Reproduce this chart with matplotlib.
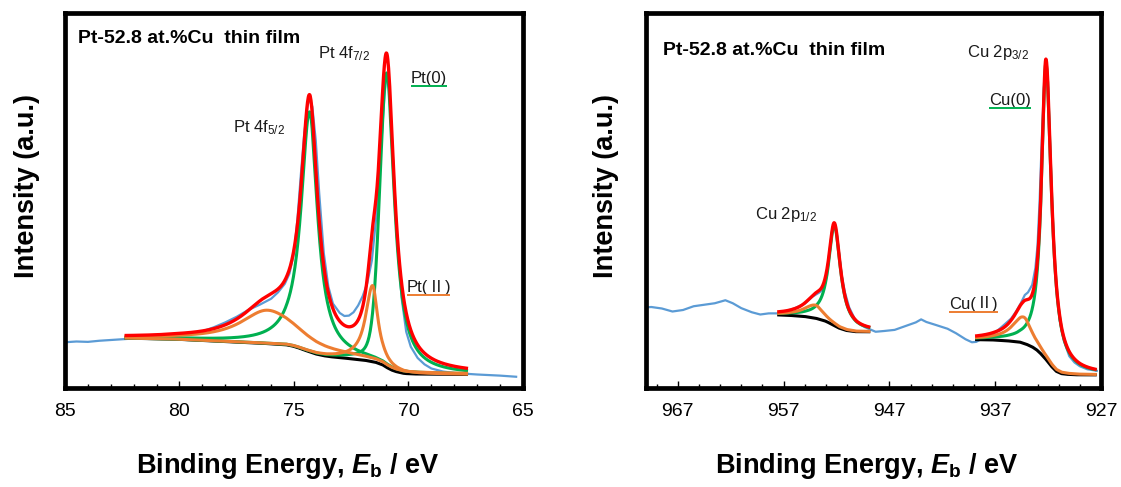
import numpy as np
import matplotlib
matplotlib.use("Agg")
import matplotlib.pyplot as plt
from matplotlib.ticker import FixedLocator, NullLocator

plt.rcParams['font.family'] = ['Liberation Sans', 'Noto Sans CJK JP', 'DejaVu Sans']
plt.rcParams['mathtext.fontset'] = 'custom'
plt.rcParams['mathtext.rm'] = 'Liberation Sans'
plt.rcParams['mathtext.it'] = 'Liberation Sans:italic:bold'
plt.rcParams['mathtext.bf'] = 'Liberation Sans:bold'

# ---------------- Pt 4f region ----------------
pt_raw_E = [85.0, 84.5, 84.0, 83.5, 83.0, 82.5, 82.0, 81.0, 80.0, 79.0, 78.5, 78.0,
            77.5, 77.0, 76.5, 76.0, 75.7, 75.4, 75.2, 75.0, 74.85, 74.7, 74.55, 74.4,
            74.3, 74.2, 74.05, 73.9, 73.7, 73.5, 73.3, 73.0, 72.8, 72.6, 72.4, 72.2,
            72.0, 71.8, 71.6, 71.4, 71.2, 71.05, 70.95, 70.85, 70.7, 70.5, 70.3, 70.1,
            69.9, 69.6, 69.3, 69.0, 68.5, 68.0, 67.5, 67.0, 66.0, 65.3]
pt_raw_I = [12.2, 12.4, 12.3, 12.6, 12.8, 13.0, 13.2, 13.5, 14.0, 15.1, 16.2, 17.5,
            19.0, 20.8, 22.2, 23.8, 25.5, 27.8, 30.5, 36.0, 45.0, 57.0, 68.0, 75.5,
            77.0, 75.0, 66.0, 52.0, 36.0, 27.0, 22.5, 20.0, 19.2, 19.3, 20.2, 22.0,
            24.5, 28.0, 34.0, 46.0, 64.0, 78.0, 84.0, 80.0, 64.0, 40.0, 24.0, 15.0,
            11.0, 8.0, 6.3, 5.2, 4.4, 4.0, 3.8, 3.6, 3.3, 3.0]

pt_bg_E = [82.4, 80.0, 78.0, 76.0, 75.3, 75.0, 74.7, 74.4, 74.0, 73.6, 73.2, 72.5,
           71.8, 71.4, 71.1, 70.9, 70.7, 70.5, 70.2, 70.0, 69.5, 67.4]
pt_bg_I = [13.3, 13.0, 12.4, 11.8, 11.5, 11.1, 10.5, 9.8, 9.0, 8.5, 8.2, 7.8,
           7.3, 6.8, 6.1, 5.3, 4.7, 4.3, 3.9, 3.8, 3.7, 3.6]
pt_fit_window = (82.4, 67.4)

# components: Pt(0) 4f7/2, Pt(0) 4f5/2, Pt(II) 4f7/2, Pt(II) 4f5/2
pt_peak_center = [70.95, 74.32, 71.57, 76.15]
pt_peak_height = [78.5, 64.0, 20.3, 8.9]
pt_peak_hw_high = [0.36, 0.45, 0.36, 1.45]
pt_peak_hw_low = [0.40, 0.42, 0.28, 1.65]
pt_peak_lfrac_high = [0.3, 1.0, 1.0, 1.0]
pt_peak_lfrac_low = [1.0, 1.0, 1.0, 1.0]
pt_peak_state = ["0", "0", "II", "II"]
pt_xticks = [85, 80, 75, 70, 65]

# ---------------- Cu 2p region ----------------
cu_raw_E = [970.0, 969.5, 968.5, 967.5, 966.5, 965.5, 964.5, 963.5, 962.5, 961.8,
            961.0, 960.0, 959.2, 958.4, 957.6, 957.0, 956.0, 955.0, 954.3, 953.6,
            953.2, 952.9, 952.6, 952.4, 952.2, 952.0, 951.8, 951.5, 951.2, 950.8,
            950.3, 949.8, 949.3, 948.8, 948.3, 947.5, 946.5, 945.5, 944.5, 944.0,
            943.5, 942.6, 941.5, 940.7, 939.8, 939.2, 938.8, 938.0, 937.0, 936.5,
            935.5, 935.0, 934.6, 934.2, 933.9, 933.5, 933.2, 933.0, 932.8, 932.6,
            932.4, 932.2, 932.0, 931.8, 931.6, 931.4, 931.2, 930.9, 930.5, 930.0,
            929.5, 929.0, 928.3, 927.4]
cu_raw_I = [21.5, 21.6, 21.2, 20.4, 20.8, 21.8, 22.2, 22.6, 23.4, 22.6,
            21.3, 20.2, 19.6, 19.9, 19.9, 20.3, 21.2, 22.5, 24.3, 25.5,
            26.5, 30.0, 37.0, 41.5, 43.3, 41.5, 37.0, 30.0, 25.5, 21.5,
            18.6, 17.0, 16.2, 15.6, 15.0, 15.2, 15.5, 16.5, 17.5, 18.3,
            17.6, 16.8, 15.8, 14.6, 13.0, 12.2, 12.3, 13.5, 14.8, 16.0,
            18.5, 20.5, 22.5, 24.8, 25.5, 27.5, 32.0, 38.0, 50.0, 66.0,
            80.0, 86.0, 80.0, 64.0, 48.0, 35.0, 26.0, 18.0, 12.5, 8.5,
            6.8, 5.8, 5.0, 4.6]

cu_bg_E = [957.6, 956.0, 954.8, 953.8, 953.0, 952.3, 951.7, 951.0, 950.1, 948.8,
           938.9, 937.0, 935.5, 934.6, 933.9, 933.4, 933.0, 932.6, 932.1, 931.6,
           931.2, 930.7, 930.0, 929.0, 927.4]
cu_bg_I = [19.5, 19.3, 19.0, 18.5, 17.8, 16.8, 15.9, 15.3, 15.0, 15.0,
           12.9, 12.8, 12.5, 12.2, 11.5, 10.8, 10.0, 8.9, 7.3, 5.5,
           4.4, 3.8, 3.6, 3.5, 3.5]
cu_fit_windows = [(957.6, 948.8), (938.9, 927.4)]

# components: Cu(0) 2p3/2, Cu(0) 2p1/2, Cu(II) 2p3/2, Cu(II) 2p1/2
cu_peak_center = [932.2, 952.2, 934.3, 954.0]
cu_peak_height = [79.0, 26.7, 7.0, 3.5]
cu_peak_hw_high = [0.50, 0.66, 1.30, 1.30]
cu_peak_hw_low = [0.62, 0.70, 0.90, 0.90]
cu_peak_lfrac_high = [1.0, 1.0, 1.0, 1.0]
cu_peak_lfrac_low = [1.0, 1.0, 1.0, 1.0]
cu_peak_window = [1, 0, 1, 0]
cu_peak_state = ["0", "0", "II", "II"]
cu_xticks = [967, 957, 947, 937, 927]

COL_RAW = "#5B9BD5"
COL_FIT = "#FF0000"
COL_BG = "#000000"
COL_STATE = {"0": "#00B050", "II": "#ED7D31"}
TXT = "#1a1a1a"


def pv_asym(E, center, height, hw_high, hw_low, lf_high, lf_low):
    """Pseudo-Voigt line with separate width / Lorentzian share on each side."""
    side = E >= center
    hw = np.where(side, hw_high, hw_low)
    lf = np.where(side, lf_high, lf_low)
    x2 = ((E - center) / hw) ** 2
    return height * (lf / (1.0 + x2) + (1.0 - lf) * np.exp(-np.log(2.0) * x2))


def draw_fit(ax, window, bg_E, bg_I, params, states):
    hi, lo = window
    E = np.linspace(lo, hi, 900)
    bg = np.interp(E, np.array(bg_E)[::-1], np.array(bg_I)[::-1])
    comps = [pv_asym(E, *p) for p in params]
    ax.plot(E, bg, color=COL_BG, lw=2.2, zorder=3, solid_capstyle='butt')
    for comp, st in zip(comps, states):
        ax.plot(E, bg + comp, color=COL_STATE[st], lw=2.2, zorder=4,
                solid_capstyle='butt')
    env = bg + np.sum(comps, axis=0)
    ax.plot(E, env, color=COL_FIT, lw=2.4, zorder=5, solid_capstyle='butt')


def style_axes(ax, xlim, majors, minors):
    ax.set_xlim(*xlim)
    ax.set_ylim(0, 100)
    ax.set_xticks(majors)
    ax.set_xticklabels([str(t) for t in majors])
    ax.xaxis.set_minor_locator(FixedLocator(minors))
    ax.yaxis.set_major_locator(NullLocator())
    ax.tick_params(axis='x', which='major', direction='in', length=5, width=1,
                   labelsize=14, pad=11, top=False)
    ax.tick_params(axis='x', which='minor', direction='in', length=3, width=1,
                   top=False)
    for sp in ax.spines.values():
        sp.set_linewidth(3.4)
        sp.set_color('black')


def state_label(ax, x, y, pieces, color, size=12):
    """Write consecutive text pieces (text, font list) and underline them."""
    fig.canvas.draw()
    inv = ax.transData.inverted()
    xd, yd = ax.transData.transform((x, y))
    x_start = xd
    for s, fam in pieces:
        xx, _ = inv.transform((xd, yd))
        t = ax.text(xx, y, s, fontsize=size, ha='left', va='baseline', color=TXT,
                    family=fam, zorder=6)
        fig.canvas.draw()
        xd = t.get_window_extent().x1
    (x0, yl), (x1, _) = inv.transform([(x_start, yd - 3), (xd, yd - 3)])
    ax.plot([x0, x1], [yl, yl], color=color, lw=1.4, zorder=6,
            solid_capstyle='butt')


fig = plt.figure(figsize=(11.21, 4.87), dpi=100)
W, H = 1121, 487
ax1 = fig.add_axes([65 / W, 1 - 388 / H, 458 / W, 375 / H])
ax2 = fig.add_axes([646 / W, 1 - 388 / H, 455 / W, 375 / H])

# Pt 4f panel
ax1.plot(pt_raw_E, pt_raw_I, color=COL_RAW, lw=1.6, zorder=2)
pt_params = list(zip(pt_peak_center, pt_peak_height, pt_peak_hw_high, pt_peak_hw_low,
                     pt_peak_lfrac_high, pt_peak_lfrac_low))
draw_fit(ax1, pt_fit_window, pt_bg_E, pt_bg_I, pt_params, pt_peak_state)
style_axes(ax1, (85, 65), pt_xticks, list(range(65, 86)))

# Cu 2p panel
ax2.plot(cu_raw_E, cu_raw_I, color=COL_RAW, lw=1.6, zorder=2)
cu_params = list(zip(cu_peak_center, cu_peak_height, cu_peak_hw_high, cu_peak_hw_low,
                     cu_peak_lfrac_high, cu_peak_lfrac_low))
for k, win in enumerate(cu_fit_windows):
    sel = [i for i, w in enumerate(cu_peak_window) if w == k]
    draw_fit(ax2, win, cu_bg_E, cu_bg_I, [cu_params[i] for i in sel],
             [cu_peak_state[i] for i in sel])
style_axes(ax2, (970, 927), cu_xticks, list(range(927, 971, 2)))

title = "Pt-52.8 at.%Cu  thin film"
ax1.text(84.43, 93.3, title, fontsize=14, fontweight='bold', ha='left', va='center')
ax2.text(968.4, 90.1, title, fontsize=14, fontweight='bold', ha='left', va='center')

ax1.text(73.95, 88.0, "Pt 4f$_{7/2}$", fontsize=12, ha='left', va='baseline', color=TXT)
ax1.text(77.68, 68.1, "Pt 4f$_{5/2}$", fontsize=12, ha='left', va='baseline', color=TXT)
ax2.text(939.7, 88.4, "Cu 2p$_{3/2}$", fontsize=12, ha='left', va='baseline', color=TXT)
ax2.text(959.7, 45.0, "Cu 2p$_{1/2}$", fontsize=12, ha='left', va='baseline', color=TXT)

latin = ['Liberation Sans']
cjk = ['Noto Sans CJK JP']
state_label(ax1, 69.89, 81.4, [("Pt(0)", latin)], COL_STATE["0"])
state_label(ax1, 70.08, 25.7, [("Pt(", latin), ("\u2161", cjk), (")", latin)],
            COL_STATE["II"])
state_label(ax2, 937.55, 75.5, [("Cu(0)", latin)], COL_STATE["0"])
state_label(ax2, 941.4, 21.2, [("Cu(", latin), ("\u2161", cjk), (")", latin)],
            COL_STATE["II"])

xlabel = r"Binding Energy, $E_\mathbf{b}$ / eV"
fig.text(288 / W, 1 - 466 / H, xlabel, fontsize=19.5, fontweight='bold',
         ha='center', va='center')
fig.text(867 / W, 1 - 466 / H, xlabel, fontsize=19.5, fontweight='bold',
         ha='center', va='center')
fig.text(27 / W, 1 - 186 / H, "Intensity (a.u.)", fontsize=19.5, fontweight='bold',
         rotation=90, ha='center', va='center')
fig.text(606 / W, 1 - 186 / H, "Intensity (a.u.)", fontsize=19.5, fontweight='bold',
         rotation=90, ha='center', va='center')

fig.savefig("out.png", dpi=100)
